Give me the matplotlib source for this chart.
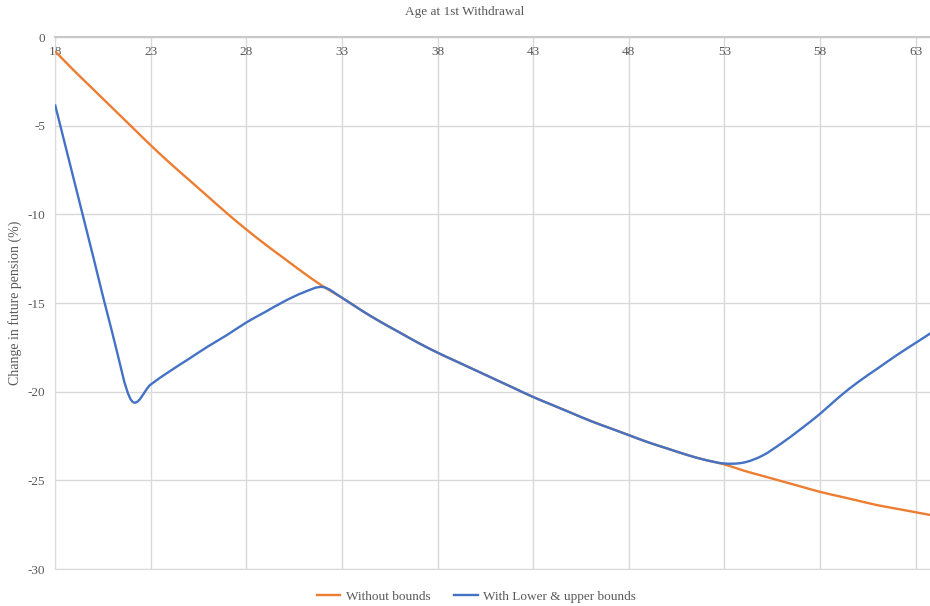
import numpy as np
import matplotlib.pyplot as plt
from matplotlib.path import Path
from matplotlib.patches import PathPatch
from matplotlib.lines import Line2D

plt.rcParams['font.family'] = ['Liberation Serif', 'DejaVu Serif']
plt.rcParams['axes.unicode_minus'] = False

# Edad al primer retiro (años)
ages = list(range(18, 65))

# Sin límites
without_bounds = [
    -0.8, -1.9, -2.95, -4.0, -5.05, -6.1, -7.1, -8.05, -9.0, -9.95,
    -10.85, -11.7, -12.5, -13.3, -14.05, -14.7, -15.4, -16.05, -16.65, -17.25,
    -17.8, -18.3, -18.8, -19.3, -19.8, -20.3, -20.75, -21.2, -21.65, -22.05,
    -22.45, -22.85, -23.2, -23.55, -23.85, -24.1, -24.45, -24.75, -25.05, -25.35,
    -25.65, -25.9, -26.15, -26.4, -26.6, -26.8, -27.0,
]

# Con límites inferior y superior
with_bounds = [
    -3.8, -8.1, -12.4, -16.7, -20.5, -19.6, -18.85, -18.15, -17.45, -16.8,
    -16.1, -15.5, -14.9, -14.4, -14.1, -14.7, -15.4, -16.05, -16.65, -17.25,
    -17.8, -18.3, -18.8, -19.3, -19.8, -20.3, -20.75, -21.2, -21.65, -22.05,
    -22.45, -22.85, -23.2, -23.55, -23.85, -24.05, -24.0, -23.6, -22.9, -22.1,
    -21.25, -20.3, -19.45, -18.7, -17.95, -17.25, -16.55,
]

x_ticks = list(range(18, 64, 5))
y_ticks = list(range(-30, 1, 5))

text_color = '#595959'
grid_color = '#d9d9d9'


def smooth_path(x, y):
    # curva suavizada tipo Excel (Bezier cubica por los puntos)
    n = len(x)
    verts = [(x[0], y[0])]
    codes = [Path.MOVETO]
    for i in range(n - 1):
        a = max(i - 1, 0)
        b = min(i + 2, n - 1)
        c1 = (x[i] + (x[i + 1] - x[a]) / 6, y[i] + (y[i + 1] - y[a]) / 6)
        c2 = (x[i + 1] - (x[b] - x[i]) / 6, y[i + 1] - (y[b] - y[i]) / 6)
        verts += [c1, c2, (x[i + 1], y[i + 1])]
        codes += [Path.CURVE4] * 3
    return Path(verts, codes)


fig = plt.figure(figsize=(9.3, 6.06), dpi=100)
ax = fig.add_axes([55 / 930, 1 - 569 / 606, 1 - 55 / 930, 532 / 606])

ax.add_patch(PathPatch(smooth_path(ages, without_bounds), fill=False,
                       edgecolor='#ED7D31', lw=1.7, zorder=3))
ax.add_patch(PathPatch(smooth_path(ages, with_bounds), fill=False,
                       edgecolor='#4472C4', lw=1.7, zorder=4))

ax.set_xlim(18, 63.75)
ax.set_ylim(-30, 0)
ax.set_xticks(x_ticks)
ax.set_yticks(y_ticks)
ax.grid(True, color=grid_color, lw=1.0, zorder=0)
ax.set_axisbelow(True)

ax.spines['right'].set_visible(False)
ax.spines['left'].set_color(grid_color)
ax.spines['bottom'].set_color(grid_color)
ax.spines['top'].set_color('#c8c8c8')
ax.spines['top'].set_linewidth(1.5)

ax.tick_params(axis='x', top=True, labeltop=True, bottom=False, labelbottom=False,
               length=0, pad=-15, labelsize=9.5, labelcolor=text_color)
ax.tick_params(axis='y', length=0, pad=7, labelsize=9.5, labelcolor=text_color)

ax.set_ylabel('Change in future pension (%)', fontsize=10, color=text_color, labelpad=4)
fig.text(0.5, 0.98, 'Age at 1st Withdrawal', ha='center', va='center',
         fontsize=9.5, color=text_color)

handles = [Line2D([], [], color='#ED7D31', lw=1.7),
           Line2D([], [], color='#4472C4', lw=1.7)]
fig.legend(handles, ['Without bounds', 'With Lower & upper bounds'],
           loc='center', bbox_to_anchor=(0.512, 0.015), ncol=2, frameon=False,
           fontsize=9.5, labelcolor=text_color, handlelength=1.8,
           handletextpad=0.4, columnspacing=1.8)

fig.savefig('out.png', dpi=100)
